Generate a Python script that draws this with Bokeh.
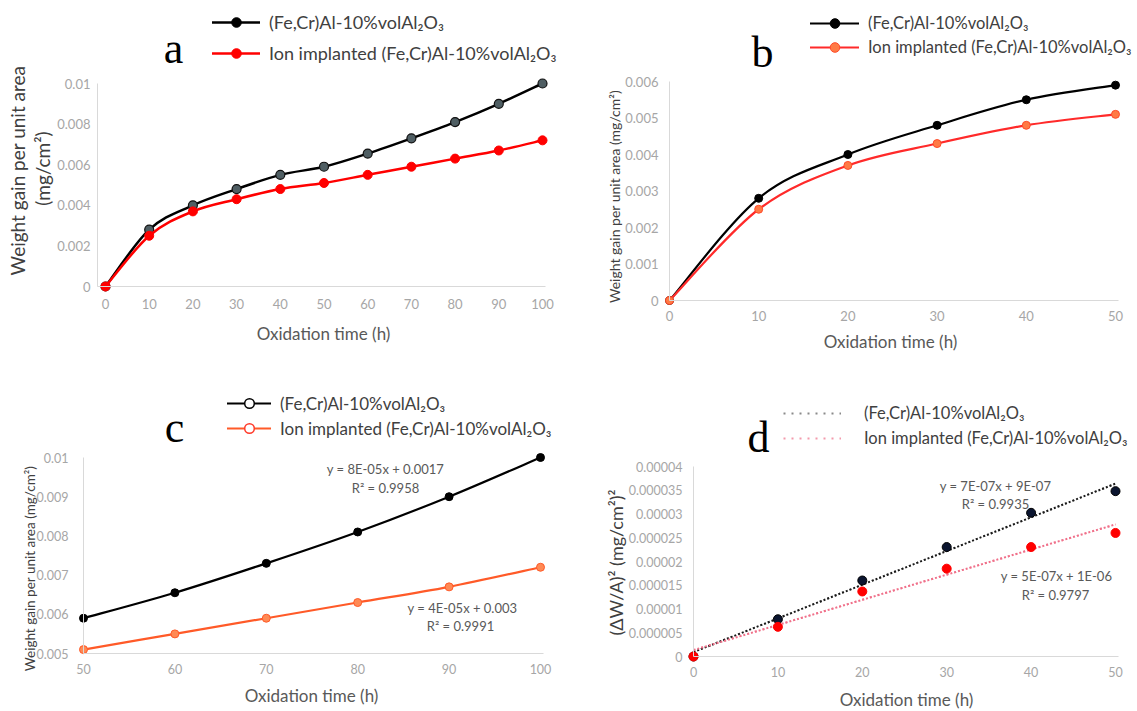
import math
import numpy as np
from bokeh.plotting import figure
from bokeh.models import Range1d, FixedTicker, Label, Legend, LegendItem
from bokeh.layouts import row, column
from bokeh.embed import file_html
from bokeh.resources import INLINE

# ---------------- data ----------------
TIME_H = [0, 10, 20, 30, 40, 50, 60, 70, 80, 90, 100]
GAIN_BASE = [0, 0.0028, 0.0040, 0.0048, 0.0055, 0.0059, 0.00655, 0.0073, 0.0081, 0.0090, 0.0100]
GAIN_ION = [0, 0.0025, 0.0037, 0.0043, 0.0048, 0.0051, 0.0055, 0.0059, 0.0063, 0.0067, 0.0072]

TIME_SQ = [0, 10, 20, 30, 40, 50]
SQ_BASE = [0, 7.84e-6, 1.6e-5, 2.304e-5, 3.025e-5, 3.481e-5]
SQ_ION = [0, 6.25e-6, 1.369e-5, 1.849e-5, 2.304e-5, 2.601e-5]

SERIES_BASE = "(Fe,Cr)Al-10%volAl\u2082O\u2083"
SERIES_ION = "Ion implanted (Fe,Cr)Al-10%volAl\u2082O\u2083"
X_TITLE = "Oxidation time (h)"
Y_TITLE_GAIN = "Weight gain per unit area"
Y_TITLE_UNIT = "(mg/cm\u00b2)"
Y_TITLE_SQ = "(\u0394W/A)\u00b2 (mg/cm\u00b2)\u00b2"

A_XTICKS = [0, 10, 20, 30, 40, 50, 60, 70, 80, 90, 100]
A_YTICKS = [0, 0.002, 0.004, 0.006, 0.008, 0.01]
A_YLABELS = ["0", "0.002", "0.004", "0.006", "0.008", "0.01"]
B_XTICKS = [0, 10, 20, 30, 40, 50]
B_YTICKS = [0, 0.001, 0.002, 0.003, 0.004, 0.005, 0.006]
B_YLABELS = ["0", "0.001", "0.002", "0.003", "0.004", "0.005", "0.006"]
C_XTICKS = [50, 60, 70, 80, 90, 100]
C_YTICKS = [0.005, 0.006, 0.007, 0.008, 0.009, 0.01]
C_YLABELS = ["0.005", "0.006", "0.007", "0.008", "0.009", "0.01"]
D_XTICKS = [0, 10, 20, 30, 40, 50]
D_YTICKS = [0, 0.000005, 0.00001, 0.000015, 0.00002, 0.000025, 0.00003, 0.000035, 0.00004]
D_YLABELS = ["0", "0.000005", "0.00001", "0.000015", "0.00002", "0.000025",
             "0.00003", "0.000035", "0.00004"]

C_FIT_BASE = ["y = 8E-05x + 0.0017", "R\u00b2 = 0.9958"]
C_FIT_ION = ["y = 4E-05x + 0.003", "R\u00b2 = 0.9991"]

# ---------------- style ----------------
SANS = "Lato"
SERIF = "Liberation Serif"
TICK_COLOR = "#a6a6a6"
AXIS_COLOR = "#d9d9d9"
TITLE_COLOR = "#595959"
LEGEND_COLOR = "#404040"

TOP_H, BOTTOM_H = 356, 355
LEFT_W, RIGHT_W = 570, 567


class Panel:
    """A figure whose plotting frame fills the canvas.  All positions given to
    it are page pixels; (ox, oy) is the figure's top-left corner on the page."""

    def __init__(self, width, height, ox, oy, xmap, ymap):
        self.w, self.h, self.ox, self.oy = width, height, ox, oy
        self.xmap, self.ymap = xmap, ymap
        self.p = figure(
            width=width, height=height,
            x_range=Range1d(self.xval(ox), self.xval(ox + width)),
            y_range=Range1d(self.yval(oy + height), self.yval(oy)),
            min_border_left=0, min_border_right=0, min_border_top=0, min_border_bottom=0,
            output_backend="svg", toolbar_location=None,
            background_fill_color="white", border_fill_color="white",
        )
        self.p.outline_line_color = None
        self.p.xgrid.visible = False
        self.p.ygrid.visible = False

    @staticmethod
    def _inv(m, px):
        v0, p0, v1, p1 = m
        return v0 + (px - p0) * (v1 - v0) / (p1 - p0)

    @staticmethod
    def _fwd(m, v):
        v0, p0, v1, p1 = m
        return p0 + (v - v0) * (p1 - p0) / (v1 - v0)

    def xval(self, px):
        return self._inv(self.xmap, px)

    def yval(self, py):
        return self._inv(self.ymap, py)

    def axes(self, xticks, yticks, ylabels, x_axis_at, y_axis_px, x_end,
             xlabel_cy, ylabel_right, size=13):
        xa, ya = self.p.xaxis[0], self.p.yaxis[0]
        y_axis_at = self.xval(y_axis_px)
        xa.fixed_location = x_axis_at
        ya.fixed_location = y_axis_at
        xa.bounds = (y_axis_at, x_end)
        ya.bounds = (x_axis_at, yticks[-1])
        xa.ticker = FixedTicker(ticks=xticks)
        ya.ticker = FixedTicker(ticks=yticks)
        ya.major_label_overrides = dict(zip(yticks, ylabels))
        for ax in (xa, ya):
            ax.axis_line_color = AXIS_COLOR
            ax.axis_line_width = 1
            ax.major_tick_line_color = None
            ax.minor_tick_line_color = None
            ax.major_tick_out = 0
            ax.major_tick_in = 0
            ax.major_label_text_font = SANS
            ax.major_label_text_font_size = f"{size}px"
            ax.major_label_text_color = TICK_COLOR
        x_axis_px = self._fwd(self.ymap, x_axis_at)
        xa.major_label_standoff = max(int(round(xlabel_cy - x_axis_px - size * 0.55)), 0)
        ya.major_label_standoff = int(round(y_axis_px - ylabel_right))

    def text(self, cx, cy, s, size, color=TITLE_COLOR, font=SANS, align="center",
             baseline="middle", angle=0.0):
        self.p.add_layout(Label(
            x=cx - self.ox, y=self.oy + self.h - cy, x_units="screen", y_units="screen",
            text=s, text_font=font, text_font_size=f"{size}px", text_color=color,
            text_align=align, text_baseline=baseline, angle=angle, angle_units="rad"))

    def legend_item(self, label, renderers, cx0, cy, glyph_w, text_x, size):
        gh = 24
        leg = Legend(
            items=[LegendItem(label=label, renderers=renderers)],
            location=(cx0 - self.ox, self.oy + self.h - cy - gh / 2),
            glyph_width=glyph_w, glyph_height=gh, label_height=gh, label_width=10,
            label_standoff=int(text_x - cx0 - glyph_w),
            padding=0, margin=0, spacing=0,
            border_line_alpha=0, background_fill_alpha=0,
            label_text_font=SANS, label_text_font_size=f"{size}px",
            label_text_color=LEGEND_COLOR,
        )
        self.p.add_layout(leg)


def smooth_curve(p, xs, ys, color, width):
    """Smoothed polyline through the points, drawn as cubic Bezier segments."""
    n = len(xs)
    seg = {k: [] for k in ("x0", "y0", "x1", "y1", "cx0", "cy0", "cx1", "cy1")}
    for i in range(n - 1):
        ip, inx = max(i - 1, 0), min(i + 2, n - 1)
        seg["x0"].append(xs[i]); seg["y0"].append(ys[i])
        seg["x1"].append(xs[i + 1]); seg["y1"].append(ys[i + 1])
        seg["cx0"].append(xs[i] + (xs[i + 1] - xs[ip]) / 6)
        seg["cy0"].append(ys[i] + (ys[i + 1] - ys[ip]) / 6)
        seg["cx1"].append(xs[i + 1] - (xs[inx] - xs[i]) / 6)
        seg["cy1"].append(ys[i + 1] - (ys[inx] - ys[i]) / 6)
    return p.bezier(**seg, line_color=color, line_width=width, line_cap="round")


# ---------------- panel a (top left) ----------------
a = Panel(LEFT_W, TOP_H, 0, 0, (0, 105, 100, 542), (0, 286, 0.01, 83))
a.axes(A_XTICKS, A_YTICKS, A_YLABELS, 0, 97, 100.7, 305, 90)
la1 = smooth_curve(a.p, TIME_H, GAIN_BASE, "#000000", 2.5)
# solid black key marker for the legend, hidden beneath the plotted markers
ka1 = a.p.scatter(TIME_H, GAIN_BASE, size=7, fill_color="#000000", line_color="#000000")
a.p.scatter(TIME_H, GAIN_BASE, size=9, fill_color="#4f5e63", line_color="#111111", line_width=1.2)
la2 = smooth_curve(a.p, TIME_H, GAIN_ION, "#ff0000", 2.5)
sa2 = a.p.scatter(TIME_H, GAIN_ION, size=9, fill_color="#ff0000", line_color="#ff0000")
a.text(173, 48, "a", 44, "#000000", SERIF, baseline="alphabetic")
a.legend_item(SERIES_BASE, [la1, ka1], 212, 22, 48, 269, 18)
a.legend_item(SERIES_ION, [la2, sa2], 212, 53, 48, 269, 18)
a.text(323, 333, X_TITLE, 17)
a.text(17, 170, Y_TITLE_GAIN, 19, "#404040", angle=math.pi / 2)
a.text(42, 168, Y_TITLE_UNIT, 19, "#404040", angle=math.pi / 2)

# ---------------- panel b (top right) ----------------
b = Panel(RIGHT_W, TOP_H, LEFT_W, 0, (0, 669, 50, 1115), (0, 300, 0.006, 81))
b.axes(B_XTICKS, B_YTICKS, B_YLABELS, 0, 669, 50.3, 317, 658)
lb1 = smooth_curve(b.p, TIME_H[:6], GAIN_BASE[:6], "#000000", 2.2)
sb1 = b.p.scatter(TIME_H[:6], GAIN_BASE[:6], size=8, fill_color="#000000", line_color="#000000")
lb2 = smooth_curve(b.p, TIME_H[:6], GAIN_ION[:6], "#ff2a2a", 2.2)
sb2 = b.p.scatter(TIME_H[:6], GAIN_ION[:6], size=8, fill_color="#ff7a45", line_color="#ff4a2a")
b.text(762, 52, "b", 44, "#000000", SERIF, baseline="alphabetic")
b.legend_item(SERIES_BASE, [lb1, sb1], 810, 23, 49, 868, 16.5)
b.legend_item(SERIES_ION, [lb2, sb2], 810, 47, 49, 868, 16.5)
b.text(890, 341, X_TITLE, 17)
b.text(614, 196, Y_TITLE_GAIN + " " + Y_TITLE_UNIT, 14, "#404040", angle=math.pi / 2)

# ---------------- panel c (bottom left) ----------------
c = Panel(LEFT_W, BOTTOM_H, 0, TOP_H, (50, 83, 100, 540), (0.005, 653, 0.01, 457))
c.axes(C_XTICKS, C_YTICKS, C_YLABELS, 0.005, 83, 100.3, 670, 68, size=12.5)
lc1 = smooth_curve(c.p, TIME_H[5:], GAIN_BASE[5:], "#000000", 2.2)
# hollow key markers for the legend, hidden beneath the plotted markers
kc1 = c.p.scatter(TIME_H[5:], GAIN_BASE[5:], size=5, fill_color="#ffffff",
                  line_color="#000000", line_width=1.5)
c.p.scatter(TIME_H[5:], GAIN_BASE[5:], size=8, fill_color="#000000", line_color="#000000")
lc2 = smooth_curve(c.p, TIME_H[5:], GAIN_ION[5:], "#ff5a28", 2.2)
kc2 = c.p.scatter(TIME_H[5:], GAIN_ION[5:], size=5, fill_color="#ffffff",
                  line_color="#ff3a2a", line_width=1.5)
c.p.scatter(TIME_H[5:], GAIN_ION[5:], size=8, fill_color="#ff8a55", line_color="#ff5a28")
c.text(174, 427, "c", 44, "#000000", SERIF, baseline="alphabetic")
c.legend_item(SERIES_BASE, [lc1, kc1], 227, 403, 44, 280, 17)
c.legend_item(SERIES_ION, [lc2, kc2], 227, 428, 44, 280, 17)
c.text(385, 468, C_FIT_BASE[0], 13)
c.text(385, 487, C_FIT_BASE[1], 13)
c.text(462, 607, C_FIT_ION[0], 13)
c.text(460, 625, C_FIT_ION[1], 13)
c.text(311, 695, X_TITLE, 17)
c.text(29, 568, Y_TITLE_GAIN + " " + Y_TITLE_UNIT, 13.5, "#404040", angle=math.pi / 2)

# ---------------- panel d (bottom right) ----------------
d = Panel(RIGHT_W, BOTTOM_H, LEFT_W, TOP_H, (0, 693, 50, 1115), (0, 656, 4e-5, 466))
d.axes(D_XTICKS, D_YTICKS, D_YLABELS, 0, 693, 50.3, 673, 682, size=12.5)


def linear_fit(xs, ys):
    m, k = np.polyfit(xs, ys, 1)
    pred = np.polyval((m, k), xs)
    ys = np.asarray(ys)
    r2 = 1 - np.sum((ys - pred) ** 2) / np.sum((ys - ys.mean()) ** 2)
    return m, k, r2, pred


mb, kb, r2b, pred_b = linear_fit(TIME_SQ, SQ_BASE)
mi, ki, r2i, pred_i = linear_fit(TIME_SQ, SQ_ION)
# sparse-dot key lines for the legend, covered by the dense trend lines
kd1 = d.p.line(TIME_SQ, pred_b, line_color="#8a8a8a", line_width=2, line_dash="2 6")
kd2 = d.p.line(TIME_SQ, pred_i, line_color="#f39aac", line_width=2, line_dash="2 6")
d.p.line(TIME_SQ, pred_b, line_color="#1a1a1a", line_width=2, line_dash="2 2")
d.p.line(TIME_SQ, pred_i, line_color="#f0708a", line_width=2, line_dash="2 2")
d.p.scatter(TIME_SQ, SQ_BASE, size=9, fill_color="#0b1530", line_color="#000000")
d.p.scatter(TIME_SQ, SQ_ION, size=9, fill_color="#ff0000", line_color="#ff0000")
d.text(758, 437, "d", 44, "#000000", SERIF, baseline="alphabetic")
d.legend_item(SERIES_BASE, [kd1], 783, 413, 58, 864, 16.5)
d.legend_item(SERIES_ION, [kd2], 783, 438, 58, 864, 16.5)
d.text(995, 485, f"y = {mb:.0E}x + {kb:.0E}", 13)
d.text(995, 503, f"R\u00b2 = {r2b:.4f}", 13)
d.text(1056, 575, f"y = {mi:.0E}x + {ki:.0E}", 13)
d.text(1055, 594, f"R\u00b2 = {r2i:.4f}", 13)
d.text(906, 699, X_TITLE, 17)
d.text(615, 562, Y_TITLE_SQ, 18, "#404040", angle=math.pi / 2)

layout = column(row(a.p, b.p), row(c.p, d.p))
open("out.html", "w").write(file_html(layout, INLINE, title="Oxidation weight gain"))
